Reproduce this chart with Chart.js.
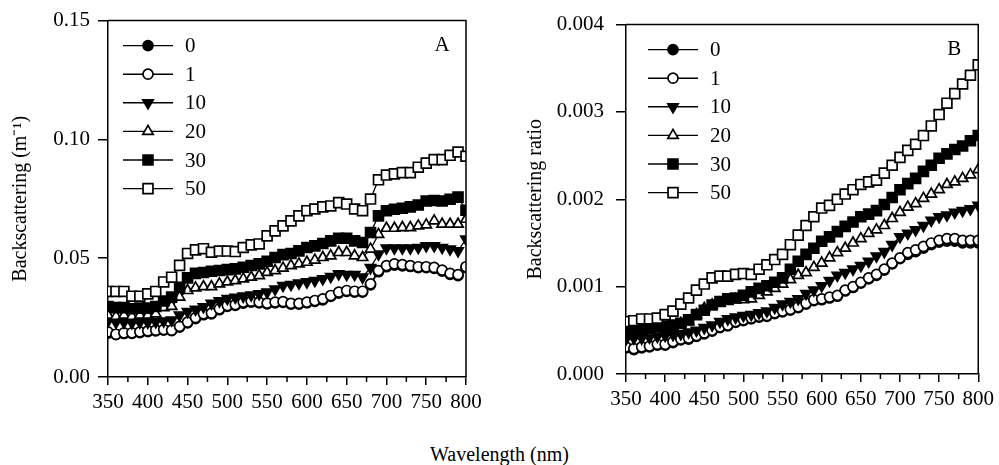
<!DOCTYPE html>
<html>
<head>
<meta charset="utf-8">
<script src="https://cdn.jsdelivr.net/npm/chart.js@4.4.1/dist/chart.umd.min.js"></script>
<style>
  body { margin: 0; background: #fff; width: 999px; height: 465px; position: relative; overflow: hidden; }
  canvas { position: absolute; top: 0; }
  #cA { left: 0; }
  #cB { left: 500px; }
  #xtitle { position: absolute; left: 0; width: 999px; top: 443px; text-align: center;
    font: 20px 'Liberation Serif', 'Times New Roman', serif; color: #000; }
</style>
</head>
<body>
<canvas id="cA" width="495" height="430"></canvas>
<canvas id="cB" width="499" height="430"></canvas>
<div id="xtitle">Wavelength (nm)</div>
<script>
// wavelengths (nm), one point every 10 nm
const wavelengths = [350,360,370,380,390,400,410,420,430,440,450,460,470,480,490,500,510,520,530,540,550,560,570,
  580,590,600,610,620,630,640,650,660,670,680,690,700,710,720,730,740,750,760,770,780,790,800];
const seriesNames = ['0', '1', '10', '20', '30', '50'];

// panel A : backscattering (m-1)
const backA0 = [0.0185,0.0178,0.0183,0.0184,0.0187,0.0191,0.0194,0.0197,0.0195,0.021,0.0228,0.0246,0.0262,0.0266,0.0283,0.0297,0.0301,0.0311,0.0315,0.0312,0.0308,0.0312,0.0314,
  0.0307,0.0307,0.0312,0.0318,0.0325,0.0339,0.0353,0.036,0.0357,0.0357,0.0388,0.0443,0.0464,0.0471,0.0468,0.0465,0.046,0.046,0.0457,0.0446,0.0432,0.0427,0.046];
const backA1 = [0.019,0.018,0.0186,0.0186,0.019,0.0194,0.0197,0.020,0.0197,0.0213,0.0231,0.025,0.0266,0.0269,0.0287,0.0301,0.0305,0.0315,0.0319,0.0315,0.0311,0.0315,0.0317,
  0.031,0.031,0.0315,0.0322,0.0329,0.0343,0.0357,0.0364,0.0361,0.0361,0.0392,0.0448,0.0469,0.0476,0.0473,0.0469,0.0464,0.0464,0.0461,0.045,0.0436,0.0431,0.0464];
const backA10 = [0.0235,0.023,0.023,0.0228,0.023,0.023,0.0232,0.0235,0.024,0.026,0.0275,0.0285,0.0295,0.031,0.032,0.033,0.0335,0.034,0.0345,0.035,0.0357,0.037,0.0385,
  0.0389,0.0395,0.040,0.0406,0.0413,0.0423,0.0434,0.0431,0.0431,0.042,0.046,0.0517,0.0543,0.0543,0.0543,0.0543,0.0545,0.0552,0.0552,0.0545,0.0538,0.0531,0.058];
const backA20 = [0.026,0.0255,0.026,0.0255,0.026,0.026,0.0266,0.0292,0.0297,0.0336,0.0364,0.0375,0.038,0.038,0.0392,0.040,0.0406,0.0413,0.042,0.0427,0.044,0.0448,0.0458,
  0.0469,0.0476,0.0483,0.0492,0.0503,0.051,0.0524,0.0524,0.051,0.0503,0.0538,0.060,0.0626,0.0626,0.0629,0.0629,0.0636,0.064,0.0657,0.0643,0.0643,0.0643,0.0664];
const backA30 = [0.0297,0.0292,0.0292,0.0287,0.029,0.029,0.0297,0.032,0.0336,0.0378,0.0417,0.0436,0.044,0.0445,0.0448,0.0452,0.0455,0.0462,0.0469,0.0476,0.0487,0.0503,0.0515,
  0.052,0.0531,0.0545,0.0552,0.0562,0.0573,0.0584,0.0584,0.0573,0.0566,0.0608,0.0678,0.070,0.0706,0.071,0.0716,0.0724,0.0741,0.0743,0.0741,0.0748,0.0757,0.0702];
const backA50 = [0.036,0.036,0.036,0.034,0.034,0.035,0.036,0.040,0.042,0.047,0.052,0.0535,0.054,0.0525,0.053,0.053,0.0528,0.0545,0.0556,0.056,0.0594,0.0615,0.0636,
  0.0657,0.0678,0.070,0.0707,0.0716,0.072,0.0734,0.0728,0.0707,0.070,0.0749,0.083,0.085,0.0855,0.086,0.086,0.0883,0.090,0.0915,0.0915,0.0933,0.0947,0.0929];

// panel B : backscattering ratio
const ratioB0 = [0.0003,0.00028,0.0003,0.00031,0.00033,0.00033,0.00036,0.00039,0.0004,0.00043,0.00046,0.00049,0.00053,0.00055,0.00059,0.00061,0.00063,0.00065,0.00066,0.00069,0.00071,0.00073,
  0.00076,0.0008,0.00084,0.00085,0.00087,0.00089,0.00095,0.00099,0.00104,0.00109,0.00113,0.00119,0.00126,0.00132,0.00137,0.0014,0.00144,0.00148,0.00151,0.00152,0.00152,0.0015,0.0015,0.0015];
const ratioB1 = [0.00031,0.00029,0.00031,0.00032,0.00034,0.00034,0.00037,0.0004,0.00041,0.00044,0.00047,0.0005,0.00054,0.00056,0.0006,0.00062,0.00064,0.00066,0.00067,0.0007,0.00072,0.00074,
  0.00077,0.00081,0.00085,0.00086,0.00088,0.0009,0.00096,0.001,0.00105,0.0011,0.00114,0.0012,0.00127,0.00133,0.00139,0.00142,0.00146,0.0015,0.00153,0.00155,0.00155,0.00153,0.00153,0.00153];
const ratioB10 = [0.0004,0.00041,0.00041,0.00042,0.00043,0.00044,0.00045,0.00046,0.00048,0.0005,0.00053,0.00056,0.0006,0.00063,0.00065,0.00067,0.00068,0.0007,0.00072,0.00076,0.0008,0.00083,
  0.00086,0.00092,0.00096,0.00101,0.00107,0.00113,0.00116,0.0012,0.00124,0.00129,0.00135,0.0014,0.00148,0.00157,0.00161,0.00165,0.0017,0.00176,0.0018,0.00182,0.00185,0.00187,0.00189,0.00193];
const ratioB20 = [0.00045,0.00046,0.00047,0.00048,0.0005,0.00052,0.00054,0.00058,0.0006,0.00068,0.00075,0.00079,0.00081,0.00083,0.00085,0.00085,0.00086,0.0009,0.00094,0.00098,0.00103,0.00108,
  0.00113,0.00116,0.00122,0.00127,0.00133,0.00139,0.00144,0.0015,0.00155,0.00161,0.00165,0.0017,0.00178,0.00185,0.00191,0.00195,0.00201,0.00206,0.00211,0.00217,0.0022,0.00224,0.00228,0.00234];
const ratioB30 = [0.00049,0.0005,0.00051,0.00052,0.00054,0.00055,0.00056,0.00058,0.00062,0.00068,0.00073,0.00079,0.00083,0.00086,0.00087,0.0009,0.00094,0.00098,0.00101,0.00105,0.0011,0.0012,
  0.00129,0.00137,0.00144,0.00152,0.00157,0.00163,0.00169,0.00174,0.0018,0.00183,0.00187,0.00194,0.00202,0.00211,0.00218,0.00224,0.00232,0.00239,0.00247,0.00252,0.00257,0.00261,0.00267,0.00273];
const ratioB50 = [0.0006,0.00061,0.00063,0.00063,0.00064,0.00068,0.00072,0.0008,0.00087,0.00096,0.00103,0.0011,0.00112,0.00112,0.00114,0.00115,0.00114,0.0012,0.00125,0.00131,0.00137,0.00148,
  0.00159,0.0017,0.0018,0.0019,0.00193,0.002,0.00206,0.00211,0.00217,0.0022,0.00222,0.0023,0.00239,0.00248,0.00256,0.00263,0.00273,0.00284,0.00297,0.0031,0.00321,0.00332,0.00342,0.00354];

const xTicks = [350,400,450,500,550,600,650,700,750,800];
const xMinorTicks = [375,425,475,525,575,625,675,725,775];
const yTicksA = [0, 0.05, 0.10, 0.15];
const yTicksB = [0, 0.001, 0.002, 0.003, 0.004];

Chart.defaults.font.family = "'Liberation Serif', 'Times New Roman', serif";
Chart.defaults.font.size = 21;
Chart.defaults.color = '#000';

// marker look for each series, same order as seriesNames
const markers = [
  {style: 'circle',   fill: '#000', r: 5,   rot: 0},
  {style: 'circle',   fill: '#fff', r: 5,   rot: 0},
  {style: 'triangle', fill: '#000', r: 6,   rot: 180},
  {style: 'triangle', fill: '#fff', r: 6,   rot: 0},
  {style: 'rect',     fill: '#000', r: 7,   rot: 0},
  {style: 'rect',     fill: '#fff', r: 7,   rot: 0}
];

// draws top/right frame, minor x ticks, panel letter and the legend
const extrasPlugin = {
  id: 'extras',
  afterDraw(chart, args, o) {
    const ctx = chart.ctx, a = chart.chartArea, x = chart.scales.x;
    ctx.save();
    ctx.strokeStyle = '#000';
    ctx.lineWidth = 1.5;
    ctx.beginPath();
    ctx.moveTo(a.left, a.top);
    ctx.lineTo(a.right, a.top);
    ctx.lineTo(a.right, a.bottom);
    for (const w of xMinorTicks) {
      const px = x.getPixelForValue(w);
      ctx.moveTo(px, a.bottom);
      ctx.lineTo(px, a.bottom + 5);
    }
    ctx.stroke();

    ctx.fillStyle = '#000';
    ctx.font = "21px 'Liberation Serif', serif";
    ctx.textAlign = 'center';
    ctx.textBaseline = 'middle';
    ctx.fillText(o.letter, a.right - 24, a.top + 25);

    // legend: line with marker in the middle, then label
    ctx.textAlign = 'left';
    for (let i = 0; i < seriesNames.length; i++) {
      const y = a.top + 25 + i * 28.6;
      const x0 = a.left + o.legX;
      ctx.lineWidth = 1.4;
      ctx.strokeStyle = '#000';
      ctx.beginPath();
      ctx.moveTo(x0, y);
      ctx.lineTo(x0 + 50, y);
      ctx.stroke();
      const m = markers[i];
      ctx.fillStyle = m.fill;
      ctx.lineWidth = 1.7;
      Chart.helpers.drawPoint(ctx, {pointStyle: m.style, radius: m.r, rotation: m.rot, borderWidth: 1.7}, x0 + 25, y);
      ctx.fillStyle = '#000';
      ctx.fillText(seriesNames[i], x0 + 62, y + 1);
    }
    ctx.restore();
  }
};

function makePanel(id, series, cfg) {
  const datasets = series.map((vals, i) => ({
    label: seriesNames[i],
    data: wavelengths.map((w, j) => ({x: w, y: vals[j]})),
    borderColor: '#000',
    borderWidth: 1.3,
    backgroundColor: markers[i].fill,
    pointBackgroundColor: markers[i].fill,
    pointBorderColor: '#000',
    pointBorderWidth: 1.7,
    pointStyle: markers[i].style,
    pointRadius: markers[i].r,
    pointRotation: markers[i].rot,
    tension: 0,
    order: 5 - i
  }));
  return new Chart(document.getElementById(id), {
    type: 'line',
    data: {datasets: datasets},
    plugins: [extrasPlugin],
    options: {
      responsive: false,
      animation: false,
      layout: {padding: {top: cfg.top, right: cfg.right, left: 0, bottom: 0}},
      plugins: {
        legend: {display: false},
        tooltip: {enabled: false},
        extras: {letter: cfg.letter, legX: cfg.legX}
      },
      scales: {
        x: {
          type: 'linear', min: 350, max: 800,
          afterBuildTicks: s => { s.ticks = xTicks.map(v => ({value: v})); },
          ticks: {autoSkip: false, maxRotation: 0, padding: 5},
          grid: {drawOnChartArea: false, tickLength: 8, color: '#000', lineWidth: 1.5},
          border: {color: '#000', width: 1.5},
          afterFit: s => { s.height = 430 - cfg.bottom; }
        },
        y: {
          min: 0, max: cfg.yTicks[cfg.yTicks.length - 1],
          afterBuildTicks: s => { s.ticks = cfg.yTicks.map(v => ({value: v})); },
          ticks: {padding: cfg.yPad, callback: v => v.toFixed(cfg.dec)},
          grid: {drawOnChartArea: false, tickLength: 10, color: '#000', lineWidth: 1.5},
          border: {color: '#000', width: 1.5},
          title: {display: true, text: cfg.yTitle, font: {size: 20}, padding: {top: cfg.titlePad, bottom: 0}},
          afterFit: s => { s.width = cfg.left; }
        }
      }
    }
  });
}

makePanel('cA', [backA0, backA1, backA10, backA20, backA30, backA50], {
  letter: 'A', legX: 15, top: 19, right: 29, bottom: 377, left: 108,
  yTicks: yTicksA, dec: 2, yPad: 8, yTitle: 'Backscattering (m\u207B\u00B9)', titlePad: 9
});
makePanel('cB', [ratioB0, ratioB1, ratioB10, ratioB20, ratioB30, ratioB50], {
  letter: 'B', legX: 22, top: 17, right: 17, bottom: 374, left: 126,
  yTicks: yTicksB, dec: 3, yPad: 12, yTitle: 'Backscattering ratio', titlePad: 24
});
</script>
</body>
</html>
